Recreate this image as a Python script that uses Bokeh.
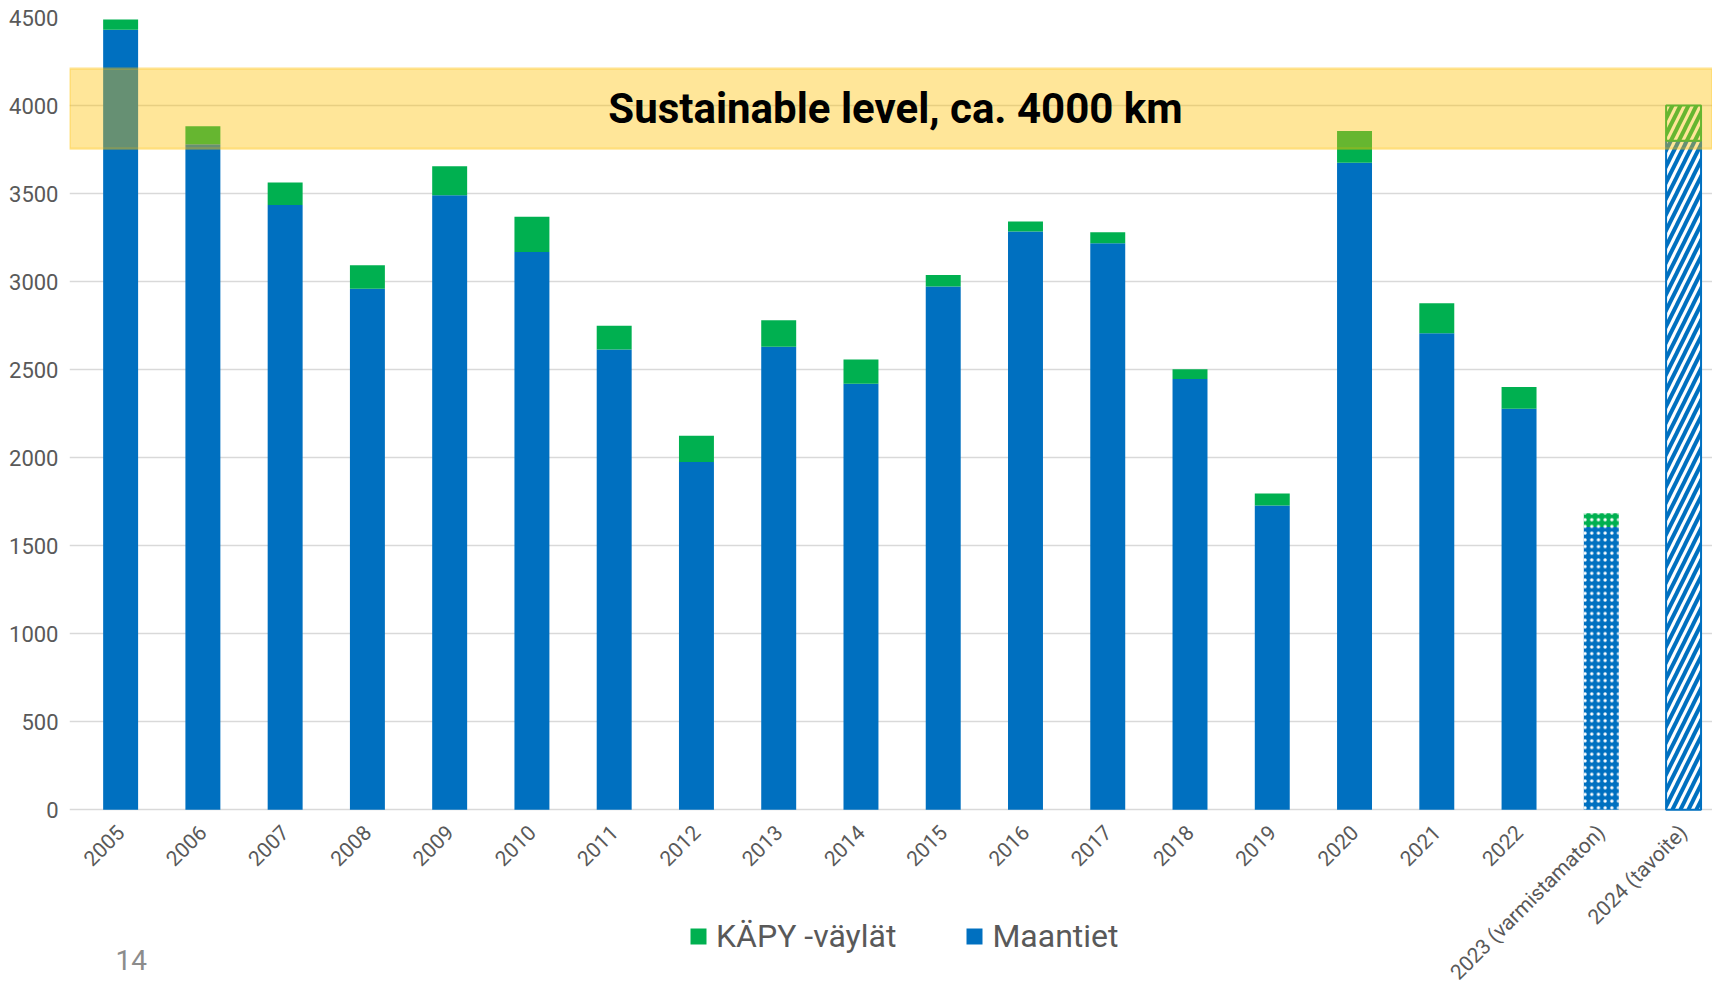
import math
from bokeh.plotting import figure
from bokeh.models import (FixedTicker, Range1d, BoxAnnotation, Label, Legend, LegendItem,
                          ColumnDataSource)
from bokeh.core.properties import value
from bokeh.embed import file_html
from bokeh.resources import INLINE

# ---------------- data ----------------
categories = ["2005", "2006", "2007", "2008", "2009", "2010", "2011", "2012", "2013",
              "2014", "2015", "2016", "2017", "2018", "2019", "2020", "2021", "2022",
              "2023 (varmistamaton)", "2024 (tavoite)"]
maantiet = [4430, 3780, 3435, 2960, 3490, 3168, 2615, 1975, 2630, 2420,
            2972, 3284, 3218, 2447, 1729, 3675, 2707, 2278, 1606, 3800]
kapy = [59, 102, 128, 133, 165, 200, 134, 150, 150, 137,
        66, 57, 63, 55, 67, 180, 170, 124, 79, 200]
y_ticks = [0, 500, 1000, 1500, 2000, 2500, 3000, 3500, 4000, 4500]
sustainable_low = 3755
sustainable_high = 4210
band_text = "Sustainable level, ca. 4000 km"
legend_labels = ["KÄPY -väylät", "Maantiet"]
page_number = "14"

BLUE = "#0070C0"
GREEN = "#00B050"
GOLD = "#FFC000"
TXT = "#595959"
GRID = "#D9D9D9"
FONT = "Roboto"

n = len(categories)
xs = list(range(n))
totals = [m + k for m, k in zip(maantiet, kapy)]

# layout geometry (pixels)
W, H = 1712, 986
left_border = 69
top_border = 17
zero_px = 809.3            # canvas y of value 0
cat_px = 82.26
px_per_unit = (zero_px - top_border) / 4500.0
y_start = -(H - zero_px) / px_per_unit
x_start = -0.5 - 10 / cat_px
x_end = x_start + (W - left_border) / cat_px

p = figure(width=W, height=H, output_backend="svg", toolbar_location=None,
           x_range=Range1d(x_start, x_end), y_range=Range1d(y_start, 4500),
           min_border_left=left_border, min_border_right=0, min_border_top=top_border,
           min_border_bottom=0)
p.outline_line_color = None
p.background_fill_color = "white"
p.border_fill_color = "white"
p.xaxis.visible = False

bw = 0.425
solid = slice(0, 18)
blue_r = p.vbar(x=xs[solid], top=maantiet[solid], bottom=0, width=bw,
                fill_color=BLUE, line_color=None)
green_r = p.vbar(x=xs[solid], bottom=maantiet[solid], top=totals[solid], width=bw,
                 fill_color=GREEN, line_color=None)
# 2023 provisional: dotted
p.vbar(x=[xs[18]], top=[maantiet[18]], bottom=0, width=bw, fill_color=BLUE, line_color=None,
       hatch_pattern="dot", hatch_color="white", hatch_scale=6.7, hatch_weight=2)
p.vbar(x=[xs[18]], bottom=[maantiet[18]], top=[totals[18]], width=bw, fill_color=GREEN,
       line_color=None, hatch_pattern="dot", hatch_color="white", hatch_scale=6.7,
       hatch_weight=2)
# 2024 target: diagonal stripes
p.vbar(x=[xs[19]], top=[maantiet[19]], bottom=0, width=bw, fill_color="white", line_color=BLUE,
       line_width=2, hatch_pattern="right_diagonal_line", hatch_color=BLUE, hatch_scale=16,
       hatch_weight=4)
p.vbar(x=[xs[19]], bottom=[maantiet[19]], top=[totals[19]], width=bw, fill_color="white",
       line_color=GREEN, line_width=2, hatch_pattern="right_diagonal_line", hatch_color=GREEN,
       hatch_scale=16, hatch_weight=4)

# category labels under the bars (rotated 45 degrees)
lab_src = ColumnDataSource(dict(x=xs, y=[0] * n, text=categories))
p.text(x="x", y="y", text="text", source=lab_src, angle=math.pi / 4, text_align="right",
       text_baseline="middle", x_offset=0, y_offset=19, text_font=value(FONT),
       text_font_size="21px", text_color=TXT)

# sustainable band
band = BoxAnnotation(left=x_start, bottom=sustainable_low, top=sustainable_high,
                     fill_color=GOLD, fill_alpha=0.4, line_color=GOLD, line_width=2.5)
p.add_layout(band)
p.add_layout(Label(x=(x_start + 19.5) / 2 - 0.02, y=(sustainable_low + sustainable_high) / 2,
                   text=band_text, text_align="center", text_baseline="middle",
                   text_font=FONT, text_font_style="bold", text_font_size="42px",
                   text_color="black"))

# y axis and grid
p.ygrid.ticker = FixedTicker(ticks=y_ticks)
p.ygrid.grid_line_color = GRID
p.ygrid.grid_line_width = 1.5
p.xgrid.visible = False

p.yaxis.ticker = FixedTicker(ticks=y_ticks)
p.yaxis.axis_line_color = None
p.yaxis.major_tick_line_color = None
p.yaxis.minor_tick_line_color = None
p.yaxis.major_tick_out = 0
p.yaxis.major_tick_in = 0
p.yaxis.major_label_standoff = 11
p.yaxis.major_label_text_font = FONT
p.yaxis.major_label_text_font_size = "22px"
p.yaxis.major_label_text_color = TXT

# legend
legend = Legend(items=[LegendItem(label=legend_labels[0], renderers=[green_r]),
                       LegendItem(label=legend_labels[1], renderers=[blue_r])],
                orientation="horizontal", location=(619, 31),
                glyph_width=20, glyph_height=20, label_standoff=8, spacing=68,
                padding=0, margin=0, border_line_color=None, background_fill_alpha=0,
                label_text_font=FONT, label_text_font_size="32px", label_text_color=TXT)
p.add_layout(legend)

p.add_layout(Label(x=46, y=27, x_units="screen", y_units="screen", text=page_number,
                   text_font=FONT, text_font_size="28px", text_color="#8C8C8C",
                   text_baseline="alphabetic"))

open("out.html", "w").write(file_html(p, INLINE))
